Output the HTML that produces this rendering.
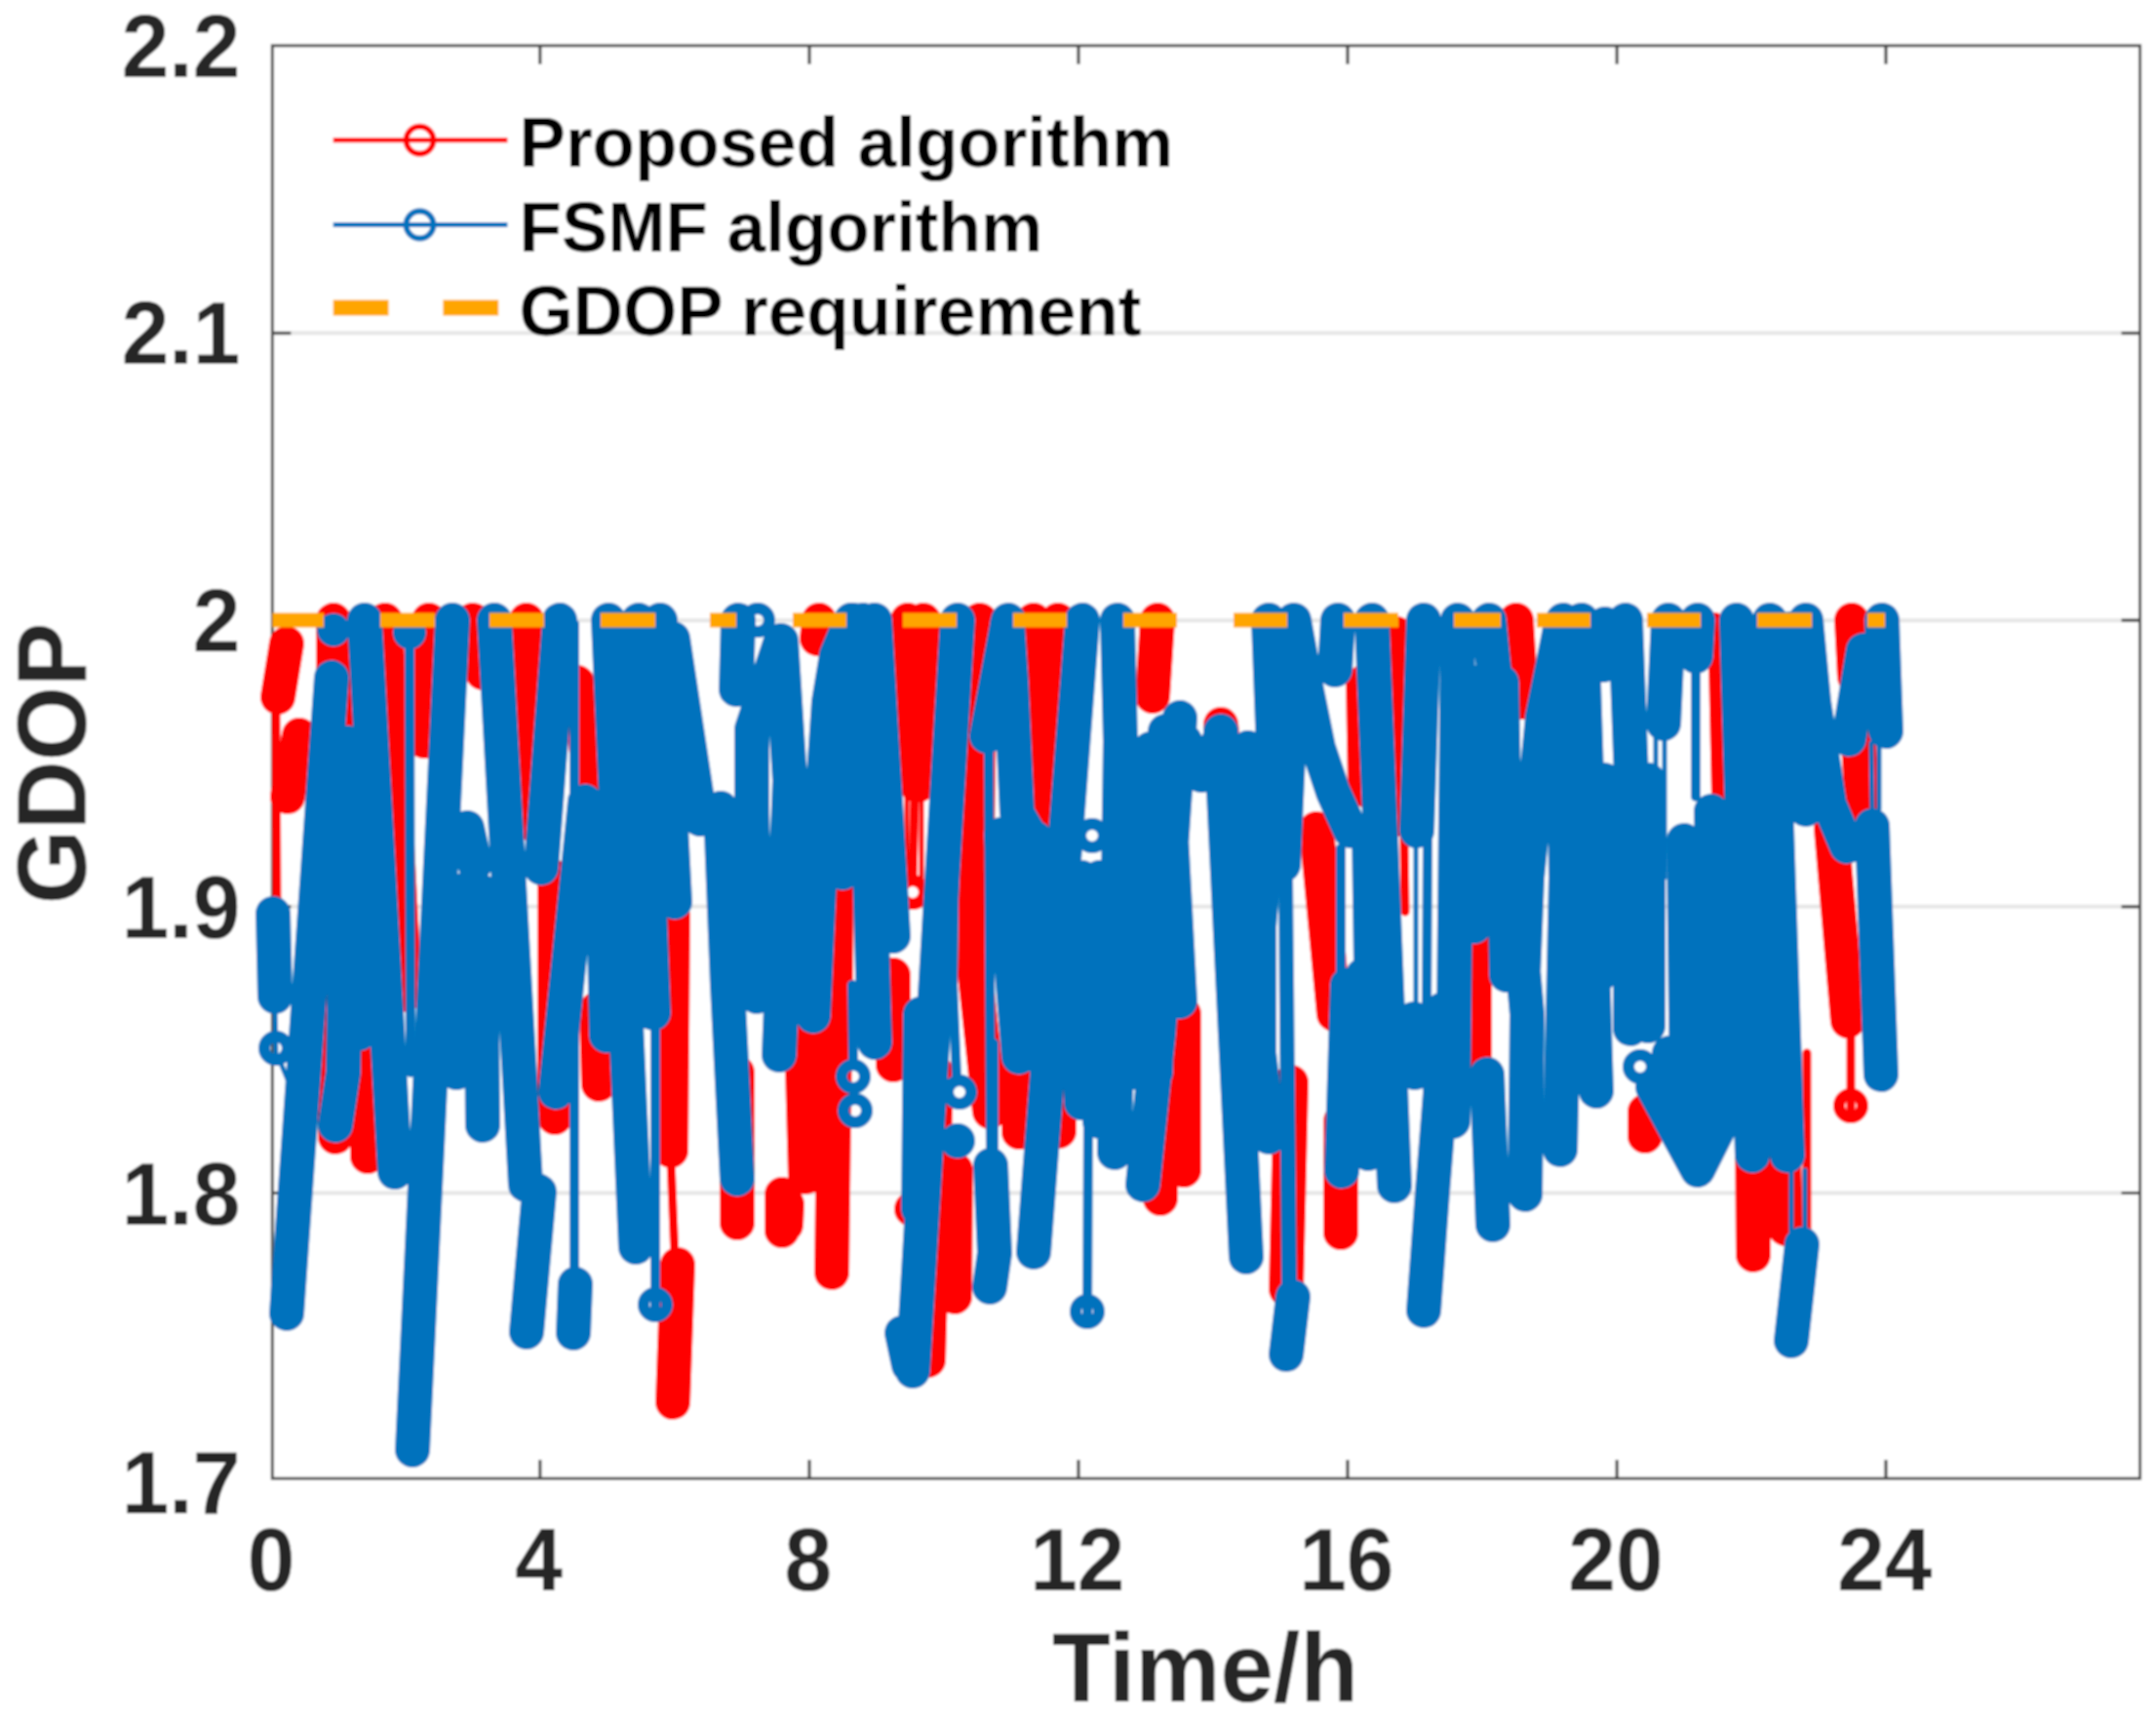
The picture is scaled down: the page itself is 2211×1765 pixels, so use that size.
<!DOCTYPE html>
<html><head><meta charset="utf-8"><title>GDOP</title>
<style>html,body{margin:0;padding:0;background:#fff}svg{display:block}</style>
</head><body>
<svg width="2211" height="1765" viewBox="0 0 2211 1765">
<rect width="2211" height="1765" fill="#fff"/>
<defs><filter id="b" x="0" y="0" width="100%" height="100%" filterUnits="userSpaceOnUse"><feGaussianBlur stdDeviation="0.9"/></filter></defs>
<g filter="url(#b)">
<rect width="2211" height="1765" fill="#fff"/>
<line x1="279.3" x2="2194.6" y1="341.6" y2="341.6" stroke="#e6e6e6" stroke-width="4"/>
<line x1="279.3" x2="2194.6" y1="636.2" y2="636.2" stroke="#e6e6e6" stroke-width="4"/>
<line x1="279.3" x2="2194.6" y1="929.8" y2="929.8" stroke="#e6e6e6" stroke-width="4"/>
<line x1="279.3" x2="2194.6" y1="1223.5" y2="1223.5" stroke="#e6e6e6" stroke-width="4"/>
<rect x="279.3" y="46.8" width="1915.3" height="1469.5" fill="none" stroke="#4a4a4a" stroke-width="3"/>
<path d="M553.8 1516.3 v-19 M553.8 46.8 v19 M830 1516.3 v-19 M830 46.8 v19 M1106 1516.3 v-19 M1106 46.8 v19 M1382 1516.3 v-19 M1382 46.8 v19 M1658.2 1516.3 v-19 M1658.2 46.8 v19 M1934 1516.3 v-19 M1934 46.8 v19 M279.3 341.6 h19 M2194.6 341.6 h-19 M279.3 636.2 h19 M2194.6 636.2 h-19 M279.3 929.8 h19 M2194.6 929.8 h-19 M279.3 1223.5 h19 M2194.6 1223.5 h-19" stroke="#4a4a4a" stroke-width="3.2" fill="none"/>
<clipPath id="c"><rect x="239.3" y="46.8" width="1955.3" height="1469.5"/></clipPath>
<g clip-path="url(#c)">
<path d="M930 815 L930 900 M945 815 L945 900" fill="none" stroke="#FF0000" stroke-width="5" stroke-linecap="round" stroke-linejoin="round"/>
<path d="M1440 860 L1441 935 M283 730 L284 930 M938 815 L936 902 M688 1190 L692 1290 M1898 1060 L1898 1146 M1853 1080 L1853 1260" fill="none" stroke="#FF0000" stroke-width="9" stroke-linecap="round" stroke-linejoin="round"/>
<path d="M1759 636 L1763 817" fill="none" stroke="#FF0000" stroke-width="16" stroke-linecap="round" stroke-linejoin="round"/>
<path d="M294 660 L285 715 M307 754 L295 817 M342 636 L344 1166 M377 700 L377 1186 M395 636 L415 1020 M440 636 L435 760 M485 636 L495 690 M520 650 L520 820 M540 636 L552 850 M569 900 L569 1146 M592 700 L606 800 M612 1035 L614 1112 M690 940 L688 1180 M695 1297 L690 1438 M756 1100 L756 1254 M802 1225 L802 1262 M807 1235 L806 1256 M840 636 L838 655 M822 1060 L826 1207 M858 900 L853 1305 M931 636 L940 805 M947 636 L942 805 M916 1000 L916 1092 M960 1100 L952 1395 M1005 636 L1000 1000 L1015 1140 M980 1200 L979 1330 M1060 636 L1070 850 M1085 636 L1075 860 M1045 1090 L1045 1161 M1086 1100 L1086 1160 M1187 636 L1182 714 M1190 1100 L1190 1229 M1214 1040 L1214 1200 M1252 743 L1254 765 M1324 1110 L1319 1322 M1375 1150 L1375 1264 M1398 700 L1400 810 M1432 650 L1434 840 M1350 850 L1368 1040 M1512 963 L1512 1080 M1555 636 L1560 720 M1687 1140 L1687 1165 M1797 1150 L1798 1287 M1828 1150 L1831 1260 M1878 850 L1895 1047 M1899 636 L1902 694 M1906 760 L1910 835" fill="none" stroke="#FF0000" stroke-width="36" stroke-linecap="round" stroke-linejoin="round"/>

<circle cx="936" cy="915" r="12" fill="none" stroke="#FF0000" stroke-width="12"/>
<circle cx="1898" cy="1134" r="12" fill="none" stroke="#FF0000" stroke-width="12"/>
<circle cx="935" cy="1240" r="12" fill="none" stroke="#FF0000" stroke-width="12"/>
<path d="M1837 1200 L1837 1262 M1851 1200 L1851 1262 M1698 757 L1698 900 M1707 757 L1707 900 M1919 762 L1920 830 M1927 762 L1927 830 M1452 860 L1452 1040 M282 1030 L283 1086 M287 1088 L297 1112" fill="none" stroke="#0072BD" stroke-width="5" stroke-linecap="round" stroke-linejoin="round"/>
<path d="M420 665 L421 1100 M589 640 L589 1300 M672 1055 L672 1349 M874 1010 L875 1090 M979 860 L977 1010 L981 1105 M1014 770 L1016 1180 M1019 1070 L1019 1180 M1116 1145 L1115 1356 M1321 900 L1325 1320 M1316 900 L1319 1320 M1739 688 L1739 817 M1375 870 L1375 1000 M1464 862 L1463 1040" fill="none" stroke="#0072BD" stroke-width="10" stroke-linecap="round" stroke-linejoin="round"/>
<path d="M280 937 L282 1022 M340 695 L294 1347 M357 762 L352 1100 L344 1154 M366 800 L368 1060 M374 636 L405 1202 M464 636 L423 1487 M479 849 L487 886 M493 914 L495 1154 M478 912 L468 1100 M507 636 L539 1215 L553 1222 L540 1366 M574 636 L555 890 M600 822 L570 1120 M618 860 L622 1062 M590 1317 L588 1367 M624 636 L652 1279 M655 636 L670 1039 M677 636 L692 925 M690 655 L718 840 M739 829 L746 1010 L756 1209 M757 636 L755 707 M801 657 L810 800 L799 1082 M800 660 L771 748 L771 835 L776 1022 M873 636 L858 672 L850 720 L845 795 L834 1042 M875 636 L864 895 M885 636 L897 1069 M897 636 L916 960 M982 636 L936 1406 M944 1040 L942 1240 M925 1367 L932 1400 M1034 636 L1012 755 M1033 640 L1037 700 L1040 767 L1043 834 L1058 860 M1027 856 L1045 1084 M1058 875 L1054 1070 M1016 1195 L1020 1285 L1015 1320 M1110 636 L1060 1284 M1146 636 L1149 760 L1143 1182 M1109 900 L1109 1131 M1210 736 L1188 1060 L1172 1215 M1180 768 L1160 1100 M1195 750 L1185 1100 M1198 800 L1210 1027 M1215 760 L1232 795 L1250 760 M1128 900 L1128 1150 M1252 750 L1278 1289 M1280 767 L1290 900 M1301 636 L1306 770 L1291 950 L1291 1080 L1301 1166 M1326 1330 L1319 1389 M1327 636 L1340 708 L1352 767 L1367 812 L1385 852 M1327 640 L1316 887 M1372 636 L1369 687 M1382 1010 L1376 1201 M1398 1000 L1403 1183 M1407 636 L1430 1216 M1404 852 L1406 990 M1460 636 L1453 852 M1450 1045 L1451 1100 M1495 636 L1490 1150 M1480 1035 L1477 1122 L1469 1222 L1460 1344 M1512 700 L1512 950 M1527 636 L1558 950 L1566 1040 L1564 1225 M1525 1102 L1531 1256 M1540 700 L1545 1000 M1600 645 L1582 735 L1566 900 L1562 1000 M1603 636 L1606 900 L1600 1179 M1622 636 L1637 1119 M1645 800 L1640 1000 M1646 640 L1644 682 M1667 636 L1673 800 L1672 1055 M1690 800 L1690 1052 M1695 1115 L1741 1200 L1776 1130 M1712 1080 L1738 1150 M1711 636 L1706 742 M1741 636 L1739 673 M1727 862 L1730 1130 M1755 832 L1760 1150 M1781 636 L1797 1185 M1815 636 L1833 1185 M1852 636 L1860 720 L1876 825 L1894 868 M1836 645 L1843 760 L1852 830 M1848 1276 L1837 1375 M1930 636 L1934 750 M1911 667 L1896 758 M1920 847 L1929 1102" fill="none" stroke="#0072BD" stroke-width="36" stroke-linecap="round" stroke-linejoin="round"/>
<circle cx="342" cy="646" r="17" fill="#0072BD"/>
<circle cx="420" cy="649" r="17" fill="#0072BD"/>
<circle cx="757" cy="636" r="17" fill="#0072BD"/>
<circle cx="982" cy="1170" r="18" fill="#0072BD"/>
<rect x="279.3" y="628.5" width="52.69999999999999" height="15" fill="#FFA500"/>
<rect x="390" y="628.5" width="56" height="15" fill="#FFA500"/>
<rect x="502" y="628.5" width="56" height="15" fill="#FFA500"/>
<rect x="616" y="628.5" width="56" height="15" fill="#FFA500"/>
<rect x="728" y="628.5" width="27" height="15" fill="#FFA500"/>
<rect x="813" y="628.5" width="55" height="15" fill="#FFA500"/>
<rect x="926" y="628.5" width="55" height="15" fill="#FFA500"/>
<rect x="1039" y="628.5" width="55" height="15" fill="#FFA500"/>
<rect x="1152" y="628.5" width="55" height="15" fill="#FFA500"/>
<rect x="1265" y="628.5" width="55" height="15" fill="#FFA500"/>
<rect x="1378" y="628.5" width="56" height="15" fill="#FFA500"/>
<rect x="1491" y="628.5" width="48" height="15" fill="#FFA500"/>
<rect x="1576" y="628.5" width="55" height="15" fill="#FFA500"/>
<rect x="1689" y="628.5" width="55" height="15" fill="#FFA500"/>
<rect x="1802" y="628.5" width="56" height="15" fill="#FFA500"/>
<rect x="1915" y="628.5" width="18" height="15" fill="#FFA500"/>
</g>
<circle cx="283" cy="1075" r="12" fill="none" stroke="#0072BD" stroke-width="12"/>
<circle cx="1682" cy="1094" r="12" fill="none" stroke="#0072BD" stroke-width="12"/>
<circle cx="1642" cy="677" r="12" fill="none" stroke="#0072BD" stroke-width="12"/>
<circle cx="672" cy="1338" r="12" fill="none" stroke="#0072BD" stroke-width="12"/>
<circle cx="777" cy="636" r="12" fill="none" stroke="#0072BD" stroke-width="12"/>
<circle cx="875" cy="1104" r="12" fill="none" stroke="#0072BD" stroke-width="12"/>
<circle cx="877" cy="1139" r="12" fill="none" stroke="#0072BD" stroke-width="12"/>
<circle cx="984" cy="1120" r="12" fill="none" stroke="#0072BD" stroke-width="12"/>
<circle cx="1115" cy="1345" r="12" fill="none" stroke="#0072BD" stroke-width="12"/>
<circle cx="1062" cy="860" r="12" fill="none" stroke="#0072BD" stroke-width="12"/>
<circle cx="1120" cy="857" r="12" fill="none" stroke="#0072BD" stroke-width="12"/>
<g font-family='"Liberation Sans", Arial, Helvetica, sans-serif' font-weight="bold" font-size="87.5" fill="#262626">
<text transform="translate(278.1,1631) scale(1,1.03)" text-anchor="middle">0</text>
<text transform="translate(552.5999999999999,1631) scale(1,1.03)" text-anchor="middle">4</text>
<text transform="translate(828.8,1631) scale(1,1.03)" text-anchor="middle">8</text>
<text transform="translate(1104.8,1631) scale(1,1.03)" text-anchor="middle">12</text>
<text transform="translate(1380.8,1631) scale(1,1.03)" text-anchor="middle">16</text>
<text transform="translate(1657.0,1631) scale(1,1.03)" text-anchor="middle">20</text>
<text transform="translate(1932.8,1631) scale(1,1.03)" text-anchor="middle">24</text>
<text transform="translate(246.3,79.4) scale(1,1.03)" text-anchor="end">2.2</text>
<text transform="translate(246.3,372.6) scale(1,1.03)" text-anchor="end">2.1</text>
<text transform="translate(246.3,668.0999999999999) scale(1,1.03)" text-anchor="end">2</text>
<text transform="translate(246.3,962.3) scale(1,1.03)" text-anchor="end">1.9</text>
<text transform="translate(246.3,1255.8) scale(1,1.03)" text-anchor="end">1.8</text>
<text transform="translate(246.3,1551.8) scale(1,1.03)" text-anchor="end">1.7</text>
</g>
<text transform="translate(1236,1744.5) scale(1,1.025)" text-anchor="middle" font-family='"Liberation Sans", Arial, Helvetica, sans-serif' font-weight="bold" font-size="98" fill="#262626">Time/h</text>
<text transform="translate(87.4,783) rotate(-90) scale(1,1.02)" text-anchor="middle" font-family='"Liberation Sans", Arial, Helvetica, sans-serif' font-weight="bold" font-size="98" fill="#262626">GDOP</text>
<line x1="341.7" x2="520.4" y1="143.8" y2="143.8" stroke="#FF0000" stroke-width="5"/>
<circle cx="430.5" cy="143.8" r="14" fill="none" stroke="#FF0000" stroke-width="6"/>
<line x1="341.7" x2="520.4" y1="230.5" y2="230.5" stroke="#0072BD" stroke-width="5"/>
<circle cx="430.5" cy="230.5" r="14" fill="none" stroke="#0072BD" stroke-width="6"/>
<rect x="341.7" y="307.6" width="56.8" height="16" fill="#FFA500"/>
<rect x="454.4" y="307.6" width="56.8" height="16" fill="#FFA500"/>
<g font-family='"Liberation Sans", Arial, Helvetica, sans-serif' font-weight="bold" font-size="71" fill="#000">
<text transform="translate(532.6,171) scale(1,1.028)">Proposed algorithm</text>
<text transform="translate(532.6,257.5) scale(1,1.028)">FSMF algorithm</text>
<text transform="translate(532.6,343.8) scale(1,1.028)">GDOP requirement</text>
</g>
</g>
</svg>
</body></html>
